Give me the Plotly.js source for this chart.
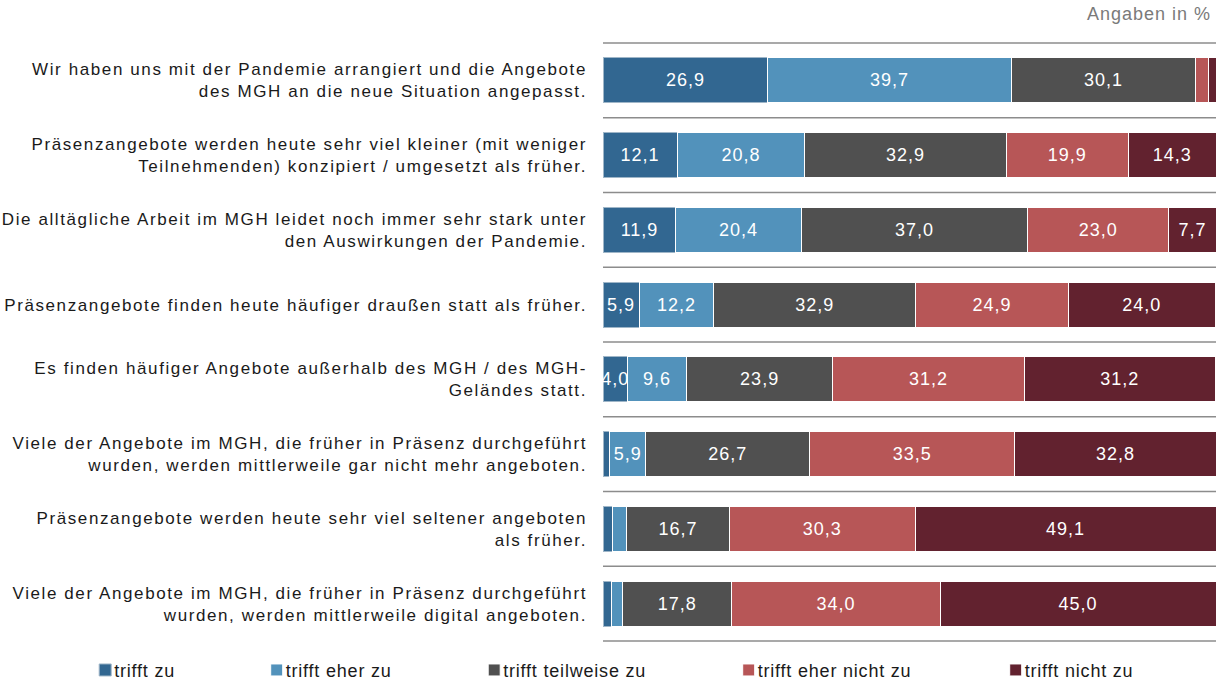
<!DOCTYPE html>
<html>
<head>
<meta charset="utf-8">
<script src="https://cdn.plot.ly/plotly-3.0.1.min.js"></script>
<style>
html,body{margin:0;padding:0;background:#fff;}
#chart{width:1216px;height:689px;}
#chart .ytick text{letter-spacing:1.6px;}
#chart .bartext{letter-spacing:1px;}
#chart .legendtext,#chart .legend2text,#chart .legend3text,#chart .legend4text,#chart .legend5text{letter-spacing:0.8px;}
#chart .annotation-text{letter-spacing:1px;}
</style>
</head>
<body>
<div id="chart"></div>
<script>
const categories = [
  "Wir haben uns mit der Pandemie arrangiert und die Angebote<br>des MGH an die neue Situation angepasst.",
  "Präsenzangebote werden heute sehr viel kleiner (mit weniger<br>Teilnehmenden) konzipiert / umgesetzt als früher.",
  "Die alltägliche Arbeit im MGH leidet noch immer sehr stark unter<br>den Auswirkungen der Pandemie.",
  "Präsenzangebote finden heute häufiger draußen statt als früher.",
  "Es finden häufiger Angebote außerhalb des MGH / des MGH-<br>Geländes statt.",
  "Viele der Angebote im MGH, die früher in Präsenz durchgeführt<br>wurden, werden mittlerweile gar nicht mehr angeboten.",
  "Präsenzangebote werden heute sehr viel seltener angeboten<br>als früher.",
  "Viele der Angebote im MGH, die früher in Präsenz durchgeführt<br>wurden, werden mittlerweile digital angeboten."
];
const seriesNames = ["trifft zu", "trifft eher zu", "trifft teilweise zu", "trifft eher nicht zu", "trifft nicht zu"];
const trifftZu        = [26.9, 12.1, 11.9, 5.9, 4.0, 1.1, 1.5, 1.4];
const trifftEherZu    = [39.7, 20.8, 20.4, 12.2, 9.6, 5.9, 2.4, 1.8];
const trifftTeilweise = [30.1, 32.9, 37.0, 32.9, 23.9, 26.7, 16.7, 17.8];
const trifftEherNicht = [2.1, 19.9, 23.0, 24.9, 31.2, 33.5, 30.3, 34.0];
const trifftNicht     = [1.2, 14.3, 7.7, 24.0, 31.2, 32.8, 49.1, 45.0];
const unitNote = "Angaben in %";

const seriesValues = [trifftZu, trifftEherZu, trifftTeilweise, trifftEherNicht, trifftNicht];
const colors = ["#326791", "#5292bb", "#505050", "#b75657", "#62222f"];
const legendCenters = [104, 275.5, 493, 747.5, 1014.5];

const L = 603, W = 613;
const ids = Array.from({length: categories.length}, (_, i) => i);
const legendKeys = seriesNames.map((_, s) => s === 0 ? "legend" : "legend" + (s + 1));
const traces = seriesValues.map((vals, s) => ({
  type: "bar",
  orientation: "h",
  name: seriesNames[s],
  y: ids,
  x: vals,
  text: vals.map(v => v >= 3.5 ? v.toFixed(1).replace(".", ",") : ""),
  textposition: "inside",
  insidetextanchor: "middle",
  textangle: 0,
  constraintext: "none",
  textfont: {color: "#ffffff", size: 18, family: "Liberation Sans, Arial, sans-serif"},
  marker: {color: colors[s], line: {color: s === 0 ? "#9fb6c8" : "#ffffff", width: 1}},
  legend: legendKeys[s],
  hoverinfo: "skip"
}));

const shapes = [];
for (let i = 0; i <= categories.length; i++) {
  shapes.push({type: "line", xref: "paper", yref: "paper", x0: 0, x1: 1, y0: i / categories.length, y1: i / categories.length,
    line: {color: "#8c8c8c", width: 1.5}});
}

const layout = {
  width: 1216, height: 689,
  margin: {l: L, r: 0, t: 43, b: 46},
  barmode: "stack",
  bargap: 0.40,
  paper_bgcolor: "#ffffff",
  plot_bgcolor: "#ffffff",
  font: {family: "Liberation Sans, Arial, sans-serif", size: 16, color: "#1a1a1a"},
  uniformtext: {mode: "show", minsize: 18},
  xaxis: {range: [0, 100], visible: false, fixedrange: true},
  yaxis: {
    tickmode: "array", tickvals: ids, ticktext: categories,
    autorange: false, range: [categories.length - 0.5, -0.5],
    showgrid: false, zeroline: false, showline: false, ticks: "",
    ticklabelstandoff: 15,
    tickfont: {size: 17, color: "#1a1a1a"}
  },
  shapes: shapes,
  annotations: [{
    text: unitNote, xref: "paper", yref: "paper", x: 0.985, y: 1, yshift: 29,
    xanchor: "right", yanchor: "middle", showarrow: false,
    font: {size: 18, color: "#7a7a7a"}
  }],
  showlegend: true
};
legendCenters.forEach((cx, s) => {
  layout[legendKeys[s]] = {
    x: (cx - 18.8 - L) / W, y: -0.018, xanchor: "left", yanchor: "top",
    orientation: "h", bgcolor: "rgba(0,0,0,0)",
    font: {size: 18, color: "#1a1a1a"},
    itemwidth: 30, tracegroupgap: 0
  };
});

function tightenLegend(gd) {
  const sel = legendKeys.map(k => "." + k + "text").join(",");
  gd.querySelectorAll(sel).forEach(t => {
    t.setAttribute("x", 29);
    t.querySelectorAll("tspan.line").forEach(sp => sp.setAttribute("x", 29));
  });
}

Plotly.newPlot("chart", traces, layout, {displayModeBar: false, staticPlot: true}).then(gd => {
  tightenLegend(gd);
  gd.on("plotly_afterplot", () => tightenLegend(gd));
});
</script>
</body>
</html>
